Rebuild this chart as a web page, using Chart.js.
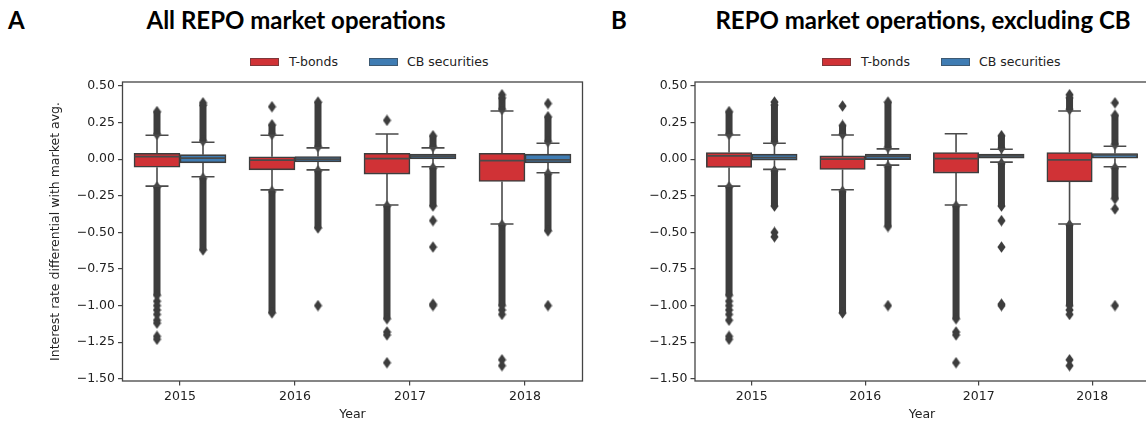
<!DOCTYPE html>
<html><head><meta charset="utf-8">
<script src="https://cdn.jsdelivr.net/npm/chart.js@4.4.0/dist/chart.umd.min.js"></script>
<style>
html,body{margin:0;padding:0;background:#fff;width:1146px;height:422px;overflow:hidden;}
body{position:relative;font-family:'DejaVu Sans',sans-serif;}
.panel{position:absolute;}
.big{position:absolute;font-family:Lato,sans-serif;font-weight:bold;font-size:24px;color:#000;white-space:nowrap;line-height:24px;}
.leg{position:absolute;font-size:12.5px;color:#222;white-space:nowrap;line-height:14px;}
.sw{position:absolute;width:29px;height:8px;box-sizing:border-box;border:1px solid rgba(60,60,60,0.55);}
</style></head>
<body>
<div class="big" style="left:8px;top:8px;">A</div>
<div class="big" style="left:296px;top:8px;transform:translateX(-50%);">All REPO market operations</div>
<div class="big" style="left:611px;top:8px;">B</div>
<div class="big" style="left:923px;top:8px;transform:translateX(-50%);">REPO market operations, excluding CB</div>

<div class="sw" style="left:250px;top:58px;background:#d03236;"></div>
<div class="leg" style="left:289px;top:55px;">T-bonds</div>
<div class="sw" style="left:369px;top:58px;background:#3f7cb3;"></div>
<div class="leg" style="left:407px;top:55px;">CB securities</div>

<div class="sw" style="left:822px;top:58px;background:#d03236;"></div>
<div class="leg" style="left:861px;top:55px;">T-bonds</div>
<div class="sw" style="left:941px;top:58px;background:#3f7cb3;"></div>
<div class="leg" style="left:979px;top:55px;">CB securities</div>

<div class="panel" style="left:0px;top:70px;width:600px;height:352px;"><canvas id="cA"></canvas></div>
<div class="panel" style="left:600px;top:70px;width:560px;height:352px;"><canvas id="cB"></canvas></div>

<script>
// ---------- shared ----------
const years = ['2015', '2016', '2017', '2018'];
const seriesNames = ['T-bonds', 'CB securities'];
const yTickValues = [0.5, 0.25, 0, -0.25, -0.5, -0.75, -1, -1.25, -1.5];
const yTickLabels = ['0.50', '0.25', '0.00', '−0.25', '−0.50', '−0.75', '−1.00', '−1.25', '−1.50'];
const yMin = -1.515;
const yMax = 0.527;

// ---------- Panel A: all REPO market operations ----------
const aTbQ1  = [-0.055, -0.073, -0.102, -0.152];
const aTbMed = [0.018, -0.007, 0.004, -0.010];
const aTbQ3  = [0.040, 0.016, 0.040, 0.040];
const aTbLo  = [-0.184, -0.210, -0.313, -0.443];
const aTbHi  = [0.163, 0.163, 0.172, 0.329];
const aTbBands = [[[0.17, 0.325], [-0.93, -0.19]], [[0.17, 0.235], [-1.05, -0.22]], [[-1.09, -0.32]], [[0.34, 0.42], [-1.0, -0.45]]];
const aTbOut = [[-0.97, -1.0, -1.03, -1.06, -1.1, -1.12, -1.21, -1.23], [0.358], [0.265, -1.18, -1.2, -1.39], [0.44, -1.03, -1.06, -1.37, -1.41]];

const aCbQ1  = [-0.025, -0.018, 0.002, -0.025];
const aCbMed = [0.007, 0.000, 0.020, -0.005];
const aCbQ3  = [0.031, 0.018, 0.034, 0.034];
const aCbLo  = [-0.120, -0.073, -0.052, -0.093];
const aCbHi  = [0.116, 0.077, 0.077, 0.109];
const aCbBands = [[[0.125, 0.37], [-0.62, -0.13]], [[0.085, 0.39], [-0.47, -0.08]], [[0.085, 0.16], [-0.32, -0.06]], [[0.12, 0.29], [-0.49, -0.1]]];
const aCbOut = [[0.385], [-1.0], [-0.42, -0.6, -0.99, -1.0], [0.38, -1.0]];

// ---------- Panel B: excluding CB ----------
const bTbQ1  = [-0.057, -0.070, -0.095, -0.155];
const bTbMed = [0.022, 0.000, 0.004, -0.005];
const bTbQ3  = [0.045, 0.022, 0.045, 0.045];
const bTbLo  = [-0.184, -0.209, -0.313, -0.443];
const bTbHi  = [0.165, 0.165, 0.174, 0.329];
const bTbBands = [[[0.17, 0.325], [-0.93, -0.19]], [[0.17, 0.23], [-1.05, -0.22]], [[-1.09, -0.32]], [[0.34, 0.42], [-1.0, -0.45]]];
const bTbOut = [[-0.97, -1.0, -1.03, -1.06, -1.1, -1.21, -1.23], [0.363], [-1.18, -1.2, -1.39], [0.44, -1.03, -1.06, -1.37, -1.41]];

const bCbQ1  = [-0.007, -0.003, 0.007, 0.007];
const bCbMed = [0.011, 0.020, 0.022, 0.030];
const bCbQ3  = [0.034, 0.034, 0.034, 0.038];
const bCbLo  = [-0.070, -0.041, -0.020, -0.052];
const bCbHi  = [0.109, 0.070, 0.068, 0.088];
const bCbBands = [[[0.12, 0.37], [-0.32, -0.08]], [[0.08, 0.39], [-0.46, -0.05]], [[0.075, 0.16], [-0.32, -0.03]], [[0.1, 0.3], [-0.27, -0.06]]];
const bCbOut = [[0.39, -0.5, -0.53], [-1.0], [-0.42, -0.6, -0.99, -1.0], [0.385, -0.34, -1.0]];

// ---------- styling ----------
const RED = '#d03236', BLUE = '#3f7cb3', GRAY = '#3d3d3d', LINEGRAY = '#4a4a4a';
const TXT = '#222';
const FONT = {family: 'DejaVu Sans', size: 12.5};
const SHIFT = 0.2, HALF = 0.195, CAP = 0.1;

function diamondImage() {
  const c = document.createElement('canvas');
  c.width = 9; c.height = 12;
  const g = c.getContext('2d');
  g.fillStyle = GRAY;
  g.beginPath();
  g.moveTo(4.5, 0.3); g.lineTo(8.6, 6); g.lineTo(4.5, 11.7); g.lineTo(0.4, 6);
  g.closePath(); g.fill();
  return c;
}
const DIAMOND = diamondImage();

function segments(q1, med, q3, lo, hi, shift) {
  const w = [], m = [];
  years.forEach((_, i) => {
    const x = i + shift;
    w.push({x, y: q1[i]}, {x, y: lo[i]}, {x, y: null});
    w.push({x, y: q3[i]}, {x, y: hi[i]}, {x, y: null});
    w.push({x: x - CAP, y: lo[i]}, {x: x + CAP, y: lo[i]}, {x, y: null});
    w.push({x: x - CAP, y: hi[i]}, {x: x + CAP, y: hi[i]}, {x, y: null});
    m.push({x: x - HALF, y: med[i]}, {x: x + HALF, y: med[i]}, {x, y: null});
  });
  return {w, m};
}
function bandPoints(bands, shift) {
  const out = [];
  bands.forEach((list, i) => list.forEach(b => {
    out.push({x: i + shift, y: b[0]}, {x: i + shift, y: b[1]}, {x: i + shift, y: null});
  }));
  return out;
}
function outPoints(outs, shift) {
  const out = [];
  outs.forEach((list, i) => list.forEach(v => out.push({x: i + shift, y: v})));
  return out;
}
function boxData(q1, q3, shift) {
  return years.map((_, i) => ({x: i + shift, y: [q1[i], q3[i]]}));
}

const framePlugin = {
  id: 'frame',
  afterDatasetsDraw(chart) {
    const {ctx, chartArea: a} = chart;
    ctx.save();
    ctx.strokeStyle = '#444';
    ctx.lineWidth = 1.3;
    ctx.strokeRect(a.left, a.top, a.right - a.left, a.bottom - a.top);
    ctx.restore();
  }
};

function makeChart(id, s, yWidth, padRight, yTitle) {
  const segT = segments(s.tq1, s.tmed, s.tq3, s.tlo, s.thi, -SHIFT);
  const segC = segments(s.cq1, s.cmed, s.cq3, s.clo, s.chi, SHIFT);
  const lineDs = (data, width, order, pts) => ({
    type: 'line', data, xAxisID: 'xl', yAxisID: 'y', order,
    borderColor: width > 3 ? GRAY : LINEGRAY, borderWidth: width, borderCapStyle: 'butt',
    spanGaps: false, showLine: true,
    pointRadius: pts ? 4 : 0, pointStyle: DIAMOND, pointHoverRadius: pts ? 4 : 0
  });
  const barDs = (label, data, color) => ({
    type: 'bar', label, data, xAxisID: 'xl', yAxisID: 'y', order: 1, grouped: false,
    backgroundColor: color, borderColor: GRAY, borderWidth: 1.6, borderSkipped: false,
    categoryPercentage: 1.0, barPercentage: 1.0
  });
  const datasets = [
    lineDs(segT.m, 1.8, 0, false),
    lineDs(segC.m, 1.8, 0, false),
    barDs(seriesNames[0], boxData(s.tq1, s.tq3, -SHIFT), RED),
    barDs(seriesNames[1], boxData(s.cq1, s.cq3, SHIFT), BLUE),
    lineDs(segT.w, 1.6, 2, false),
    lineDs(segC.w, 1.6, 2, false),
    lineDs(bandPoints(s.tb, -SHIFT), 7, 3, true),
    lineDs(bandPoints(s.cb, SHIFT), 7, 3, true),
    Object.assign(lineDs(outPoints(s.to, -SHIFT), 0, 3, true), {showLine: false}),
    Object.assign(lineDs(outPoints(s.co, SHIFT), 0, 3, true), {showLine: false})
  ];
  return new Chart(document.getElementById(id), {
    type: 'bar',
    data: {labels: years, datasets},
    plugins: [framePlugin],
    options: {
      responsive: true, maintainAspectRatio: false, animation: false, events: [],
      layout: {padding: {top: 12, right: padRight, bottom: 0, left: 0}},
      plugins: {legend: {display: false}, tooltip: {enabled: false}},
      scales: {
        x: {
          type: 'category', offset: true,
          grid: {offset: false, drawOnChartArea: false, tickLength: 4.5, color: '#444', lineWidth: 1.2},
          border: {display: false},
          ticks: {color: TXT, font: FONT, padding: 4, maxRotation: 0},
          title: {display: true, text: 'Year', color: TXT, font: FONT, padding: {top: 0, bottom: 0}},
          afterFit: sc => { sc.height = 41; }
        },
        xl: {
          type: 'linear', display: false, min: -0.5, max: 3.5, offset: false,
          afterBuildTicks: sc => { sc.ticks = years.map((_, i) => ({value: i})); }
        },
        y: {
          type: 'linear', min: yMin, max: yMax,
          afterBuildTicks: sc => { sc.ticks = yTickValues.map(v => ({value: v})); },
          ticks: {color: TXT, font: FONT, padding: 3, autoSkip: false,
                  callback: v => yTickLabels[yTickValues.indexOf(v)]},
          grid: {drawOnChartArea: false, tickLength: 4.5, color: '#444', lineWidth: 1.2},
          border: {display: false},
          title: {display: !!yTitle, text: yTitle || '', color: TXT, font: FONT, padding: {top: 48.5, bottom: 0}},
          afterFit: sc => { sc.width = yWidth; }
        }
      }
    }
  });
}

makeChart('cA', {
  tq1: aTbQ1, tmed: aTbMed, tq3: aTbQ3, tlo: aTbLo, thi: aTbHi, tb: aTbBands, to: aTbOut,
  cq1: aCbQ1, cmed: aCbMed, cq3: aCbQ3, clo: aCbLo, chi: aCbHi, cb: aCbBands, co: aCbOut
}, 122.5, 17.5, 'Interest rate differential with market avg.');

makeChart('cB', {
  tq1: bTbQ1, tmed: bTbMed, tq3: bTbQ3, tlo: bTbLo, thi: bTbHi, tb: bTbBands, to: bTbOut,
  cq1: bCbQ1, cmed: bCbMed, cq3: bCbQ3, clo: bCbLo, chi: bCbHi, cb: bCbBands, co: bCbOut
}, 95, 7, null);
</script>
</body></html>
